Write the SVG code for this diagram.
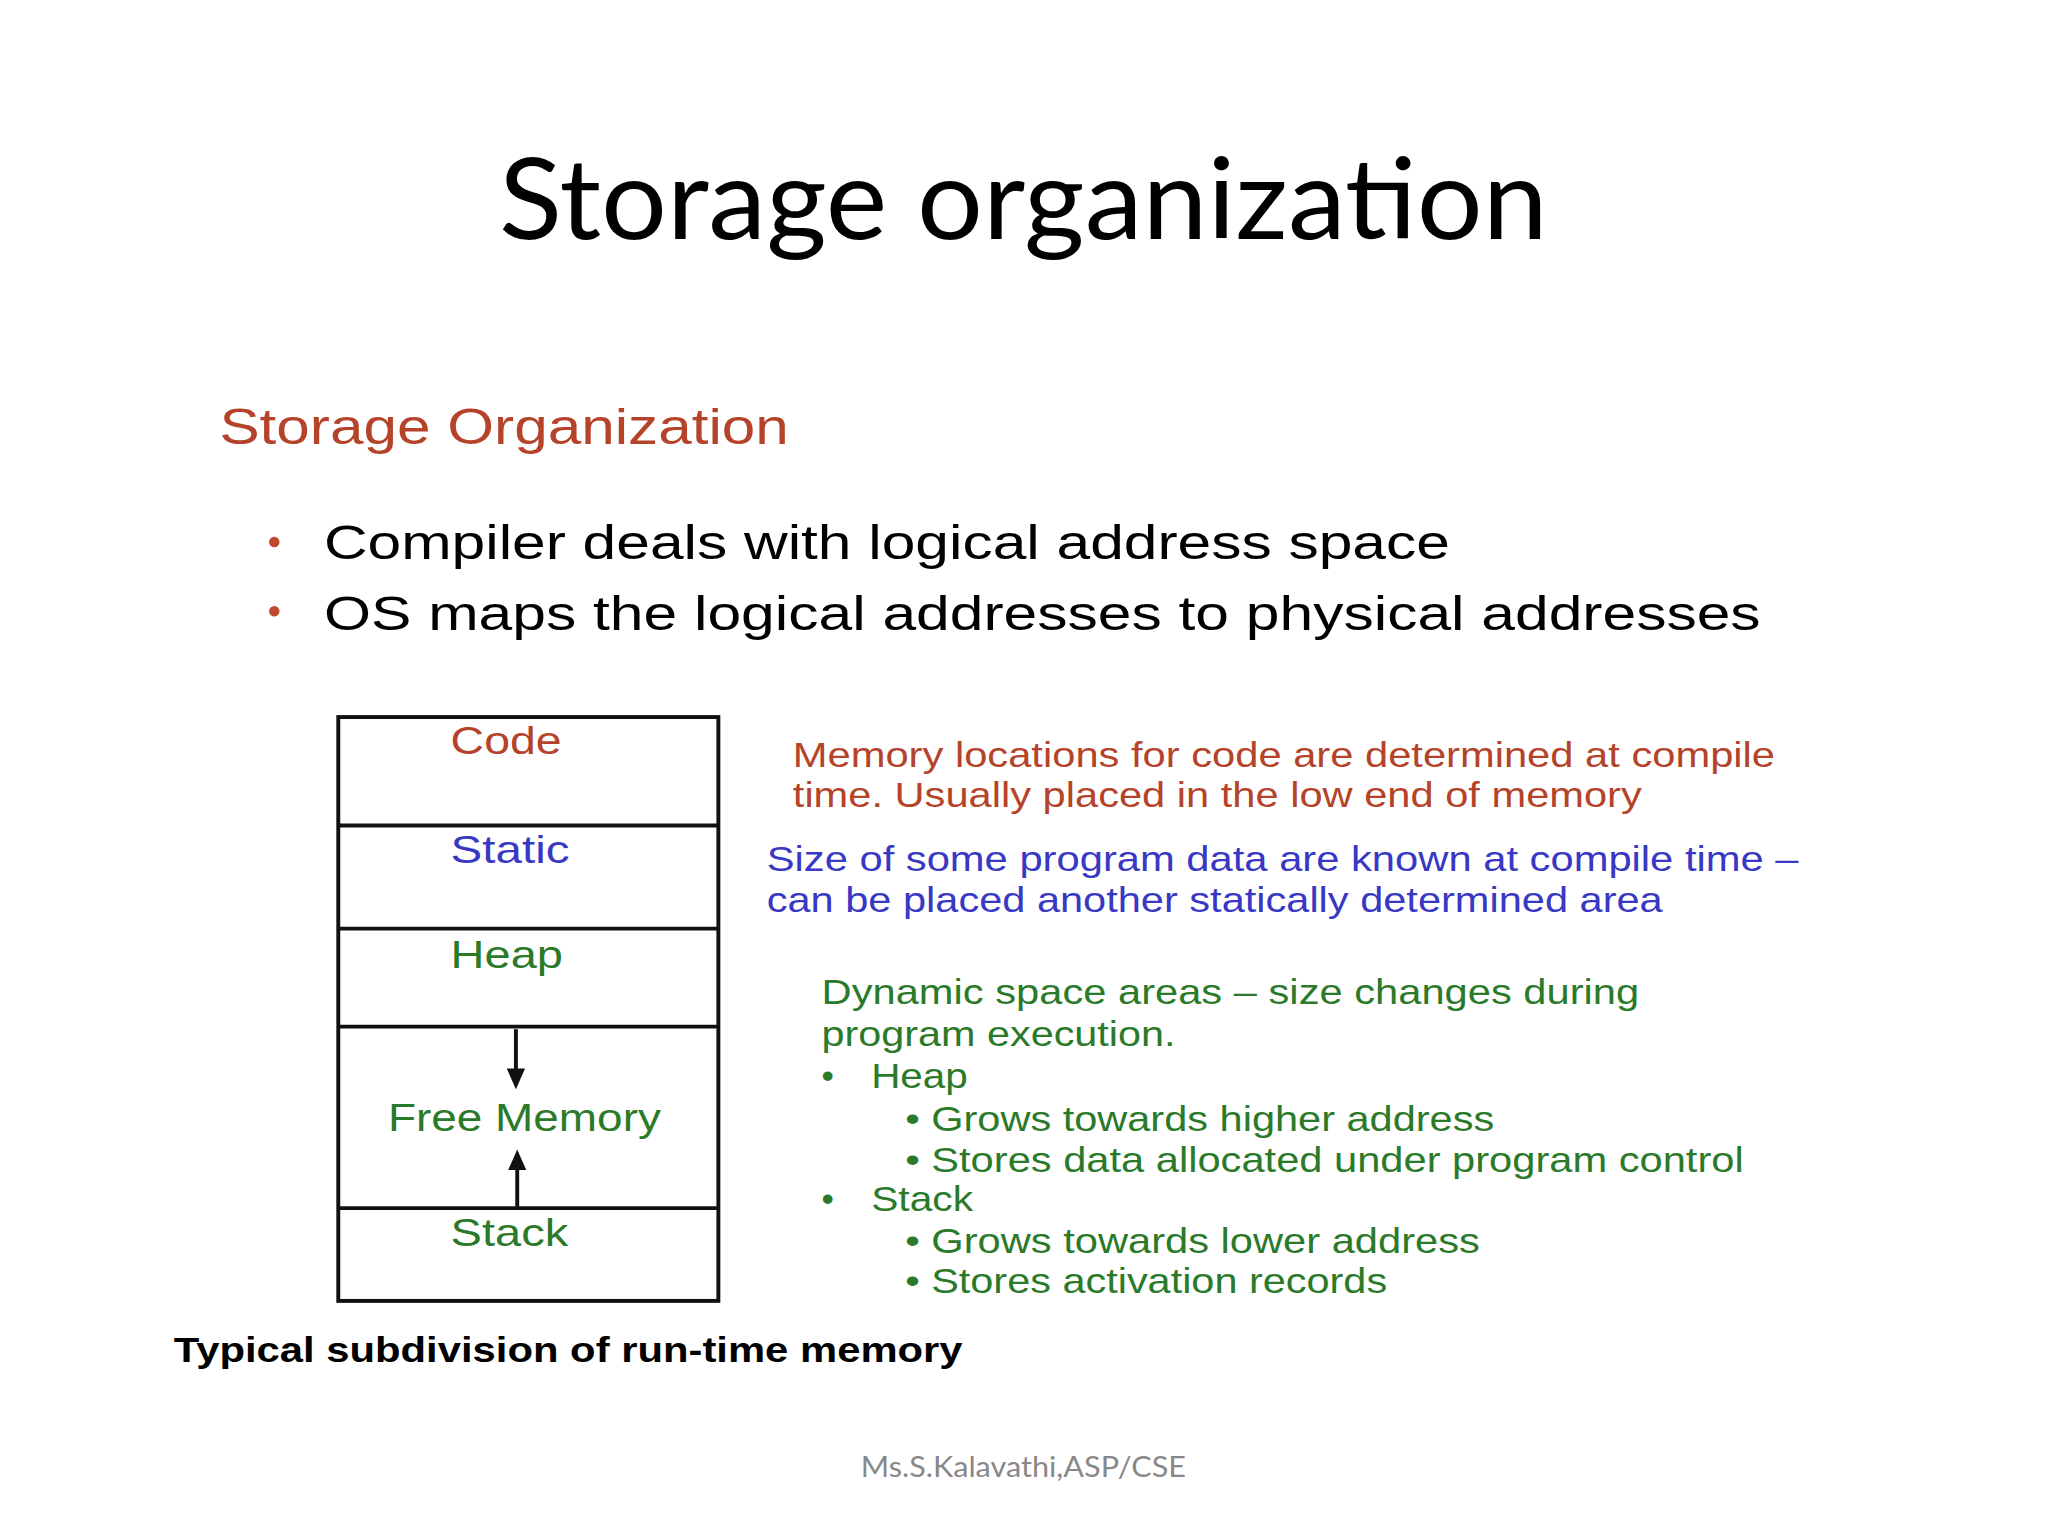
<svg xmlns="http://www.w3.org/2000/svg" width="2048" height="1536" viewBox="0 0 2048 1536">
<style>
.s{font-family:"Liberation Sans",Arial,sans-serif}
.r{fill:#b5432a}.b{fill:#3838c4}.g{fill:#2a7a2a}
.m{font-size:27px}
text{}
</style>
<defs><marker id="ah" markerWidth="16" markerHeight="16" refX="8" refY="8" orient="auto" markerUnits="userSpaceOnUse"><path d="M0,1L16,8L0,15z" fill="#111"/></marker></defs>
<rect width="2048" height="1536" fill="#fff"/>
<g transform="scale(1.30612)">
<text x="382" y="183" textLength="803" lengthAdjust="spacingAndGlyphs" font-family="Lato,'Open Sans',sans-serif" font-size="86" fill="#000">Storage organization</text>
<text class="s r" x="168" y="340" font-size="38" textLength="436" lengthAdjust="spacingAndGlyphs">Storage Organization</text>
<circle cx="210" cy="415" r="4" fill="#c0482e"/><circle cx="210" cy="468" r="4" fill="#c0482e"/>
<text class="s" x="248" y="428" font-size="37" textLength="862" lengthAdjust="spacingAndGlyphs">Compiler deals with logical address space</text>
<text class="s" x="248" y="482" font-size="37" textLength="1100" lengthAdjust="spacingAndGlyphs">OS maps the logical addresses to physical addresses</text>
<g id="memory" fill="none" stroke="#111" stroke-width="3">
<rect x="259" y="549" width="291" height="447"/>
<path d="M259 632H550M259 711H550M259 786H550M259 925H550"/>
</g>
<g id="labels" class="s" font-size="30">
<text class="r" x="345" y="577" textLength="85" lengthAdjust="spacingAndGlyphs">Code</text>
<text class="b" x="345" y="661" textLength="91" lengthAdjust="spacingAndGlyphs">Static</text>
<text class="g" x="345" y="741" textLength="86" lengthAdjust="spacingAndGlyphs">Heap</text>
<text class="g" x="297" y="866" textLength="209" lengthAdjust="spacingAndGlyphs">Free Memory</text>
<text class="g" x="345" y="954" textLength="90" lengthAdjust="spacingAndGlyphs">Stack</text>
</g>
<g id="connectors" stroke="#111" stroke-width="3">
<line x1="395" y1="788" x2="395" y2="826" marker-end="url(#ah)"/>
<line x1="396" y1="924" x2="396" y2="888" marker-end="url(#ah)"/>
</g>
<text class="s" x="133" y="1043" font-size="27" font-weight="bold" textLength="604" lengthAdjust="spacingAndGlyphs">Typical subdivision of run-time memory</text>
<g class="s m">
<text class="r" x="607" y="587" textLength="752" lengthAdjust="spacingAndGlyphs">Memory locations for code are determined at compile</text>
<text class="r" x="607" y="618" textLength="650" lengthAdjust="spacingAndGlyphs">time. Usually placed in the low end of memory</text>
<text class="b" x="587" y="667" textLength="790" lengthAdjust="spacingAndGlyphs">Size of some program data are known at compile time –</text>
<text class="b" x="587" y="698" textLength="686" lengthAdjust="spacingAndGlyphs">can be placed another statically determined area</text>
<text class="g" x="629" y="769" textLength="626" lengthAdjust="spacingAndGlyphs">Dynamic space areas – size changes during</text>
<text class="g" x="629" y="801" textLength="271" lengthAdjust="spacingAndGlyphs">program execution.</text>
<text class="g" x="629" y="833">•</text><text class="g" x="667" y="833" textLength="74" lengthAdjust="spacingAndGlyphs">Heap</text>
<text class="g" x="693" y="866" textLength="451" lengthAdjust="spacingAndGlyphs">• Grows towards higher address</text>
<text class="g" x="693" y="897" textLength="642" lengthAdjust="spacingAndGlyphs">• Stores data allocated under program control</text>
<text class="g" x="629" y="927">•</text><text class="g" x="667" y="927" textLength="78" lengthAdjust="spacingAndGlyphs">Stack</text>
<text class="g" x="693" y="959" textLength="440" lengthAdjust="spacingAndGlyphs">• Grows towards lower address</text>
<text class="g" x="693" y="990" textLength="369" lengthAdjust="spacingAndGlyphs">• Stores activation records</text>
</g>
<text x="659" y="1131" textLength="249" lengthAdjust="spacingAndGlyphs" font-family="Lato,'Open Sans',sans-serif" font-size="22" fill="#888">Ms.S.Kalavathi,ASP/CSE</text>
</g>
</svg>
